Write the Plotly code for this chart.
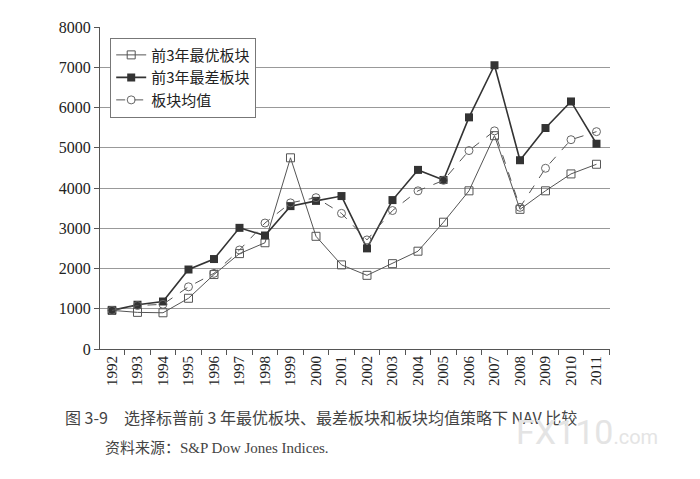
import plotly.graph_objects as go

# 年份和三条NAV曲线
years = [str(y) for y in range(1992, 2012)]
best = [960, 910, 900, 1260, 1850, 2370, 2640, 4750, 2800, 2090,
        1830, 2120, 2430, 3150, 3930, 5300, 3470, 3930, 4350, 4590]
worst = [960, 1100, 1180, 1975, 2235, 3010, 2820, 3550, 3680, 3800,
         2500, 3700, 4450, 4200, 5755, 7050, 4690, 5490, 6150, 5100]
avg = [960, 1080, 1110, 1545, 1880, 2460, 3130, 3630, 3760, 3370,
       2710, 3440, 3930, 4190, 4930, 5420, 3520, 4490, 5200, 5400]

names = ['前3年最优板块', '前3年最差板块', '板块均值']

serif = 'Liberation Serif'
cjk = 'Noto Sans CJK SC'

fig = go.Figure()
fig.add_trace(go.Scatter(x=years, y=best, name=names[0], mode='lines+markers',
                         line=dict(color='#555', width=1),
                         marker=dict(symbol='square-open', size=8, color='#555',
                                     line=dict(width=1))))
fig.add_trace(go.Scatter(x=years, y=worst, name=names[1], mode='lines+markers',
                         line=dict(color='#333', width=1.6),
                         marker=dict(symbol='square', size=8, color='#333')))
fig.add_trace(go.Scatter(x=years, y=avg, name=names[2], mode='lines+markers',
                         line=dict(color='#555', width=1, dash='dash'),
                         marker=dict(symbol='circle-open', size=8, color='#666',
                                     line=dict(width=1))))

# 页面body有8px边距, 所以边距减掉8
fig.update_layout(
    width=700, height=479,
    margin=dict(l=92, r=98, t=11, b=138),
    plot_bgcolor='white', paper_bgcolor='white',
    showlegend=True,
    legend=dict(x=0.02, y=0.967, xanchor='left', yanchor='top',
                bgcolor='white', bordercolor='#777', borderwidth=1,
                font=dict(family=cjk, size=15, color='#222'),
                tracegroupgap=0),
    xaxis=dict(type='category', range=[-0.47, 19.53],
               tickangle=-90, tickson='boundaries', ticks='outside', ticklen=5,
               tickcolor='#555', showline=True, linecolor='#555', linewidth=1,
               showgrid=False,
               tickfont=dict(family=serif, size=15, color='#222')),
    yaxis=dict(range=[0, 8000], dtick=1000, ticks='outside', ticklen=5,
               tickcolor='#555', showline=True, linecolor='#555', linewidth=1,
               showgrid=True, gridcolor='#999', gridwidth=1, zeroline=False,
               tickfont=dict(family=serif, size=16, color='#222')),
)

# 图题、资料来源、水印
fig.add_annotation(text='图 3-9　选择标普前 3 年最优板块、最差板块和板块均值策略下 NAV 比较',
                   xref='paper', yref='paper', x=-0.073, y=-0.168, xanchor='left',
                   yanchor='top', showarrow=False,
                   font=dict(family=cjk, size=16, color='#444'))
fig.add_annotation(text='资料来源：<span style="font-family:Liberation Serif">S&P Dow Jones Indices.</span>',
                   xref='paper', yref='paper', x=0.006, y=-0.265, xanchor='left',
                   yanchor='top', showarrow=False,
                   font=dict(family=cjk, size=15, color='#444'))
fig.add_annotation(text='FX110<span style="font-size:20px">.com</span>',
                   xref='paper', yref='paper', x=1.098, y=-0.19,
                   xanchor='right', yanchor='top', showarrow=False,
                   font=dict(family='Roboto', size=34, color='#e4e4e4'))

fig.write_html("out.html")
